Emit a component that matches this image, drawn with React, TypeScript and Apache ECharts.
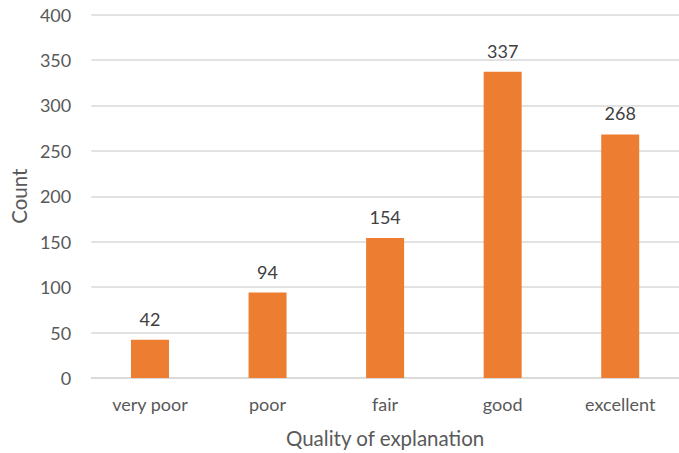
import React, { useEffect, useRef } from "react";
import * as echarts from "echarts";

const categories = ["very poor", "poor", "fair", "good", "excellent"];
const counts = [42, 94, 154, 337, 268];
const yTicks = { min: 0, max: 400, interval: 50 };
const xTitle = "Quality of explanation";
const yTitle = "Count";

const FONT = "Lato, 'Open Sans', sans-serif";

export default function App() {
  const ref = useRef<HTMLDivElement>(null);
  useEffect(() => {
    if (!ref.current) return;
    const chart = echarts.init(ref.current, null, { renderer: "svg" });
    chart.setOption({
      animation: false,
      backgroundColor: "#ffffff",
      grid: { left: 85, right: -4, top: 14.5, bottom: 73, containLabel: false },
      xAxis: {
        type: "category",
        data: categories,
        axisLine: { show: true, lineStyle: { color: "#D9D9D9", width: 1.5 } },
        axisTick: { show: false },
        axisLabel: { color: "#595959", fontSize: 18, fontFamily: FONT, margin: 17 },
        name: xTitle,
        nameLocation: "middle",
        nameGap: 49,
        nameTextStyle: { color: "#595959", fontSize: 20.5, fontFamily: FONT },
      },
      yAxis: {
        type: "value",
        min: yTicks.min,
        max: yTicks.max,
        interval: yTicks.interval,
        axisLine: { show: false },
        axisTick: { show: false },
        splitLine: { lineStyle: { color: "#D9D9D9", width: 1.5 } },
        axisLabel: { color: "#595959", fontSize: 18, fontFamily: FONT, margin: 20 },
        name: yTitle,
        nameLocation: "middle",
        nameGap: 60,
        nameRotate: 90,
        nameTextStyle: { color: "#595959", fontSize: 20.5, fontFamily: FONT },
      },
      series: [
        {
          type: "bar",
          data: counts,
          barWidth: 38,
          itemStyle: { color: "#ED7D31" },
          label: {
            show: true,
            position: "top",
            distance: 12,
            color: "#404040",
            fontSize: 18,
            fontFamily: FONT,
          },
        },
      ],
    });
    return () => chart.dispose();
  }, []);
  return (
    <div
      ref={ref}
      style={{ position: "absolute", left: 0, top: 0, width: 679, height: 453 }}
    />
  );
}
